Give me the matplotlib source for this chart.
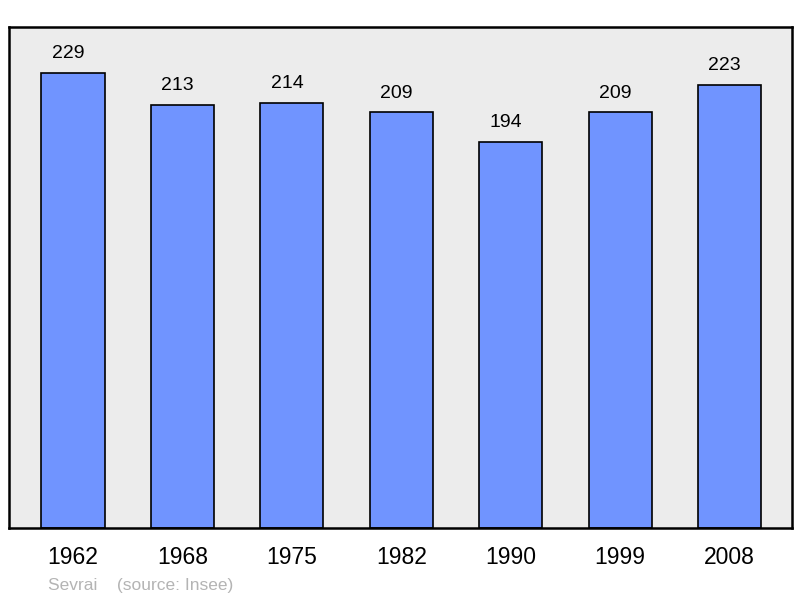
import matplotlib
matplotlib.use("Agg")
import matplotlib.pyplot as plt

plt.rcParams['font.family'] = ['Liberation Sans', 'DejaVu Sans']

# population data
years = ['1962', '1968', '1975', '1982', '1990', '1999', '2008']
population = [229, 213, 214, 209, 194, 209, 223]

fig = plt.figure(figsize=(8, 5.98), dpi=100)
ax = fig.add_axes([9/800, 1 - 528/598, 783/800, 501/598])
ax.set_facecolor('#ececec')

x = range(len(years))
bars = ax.bar(x, population, width=0.576, color='#7094ff', edgecolor='black', linewidth=1.2)

# valeurs au-dessus des barres (un peu décalées à gauche comme l'original)
for bar, val in zip(bars, population):
    ax.text(bar.get_x() + bar.get_width()/2 - 0.045, val + 7.5, str(val),
            ha='center', va='baseline', fontsize=14)

ax.set_xlim(-0.585, 6.572)
ax.set_ylim(0, 252)
ax.set_xticks(list(x))
ax.set_xticklabels(years, fontsize=16.5)
ax.tick_params(axis='x', length=0, pad=13)
ax.set_yticks([])
for sp in ax.spines.values():
    sp.set_linewidth(1.8)

fig.text(48/800, 1 - 590/598, 'Sevrai    (source: Insee)', color='#b4b4b4',
         fontsize=12.5, ha='left', va='baseline')

fig.savefig('out.png', dpi=100)
